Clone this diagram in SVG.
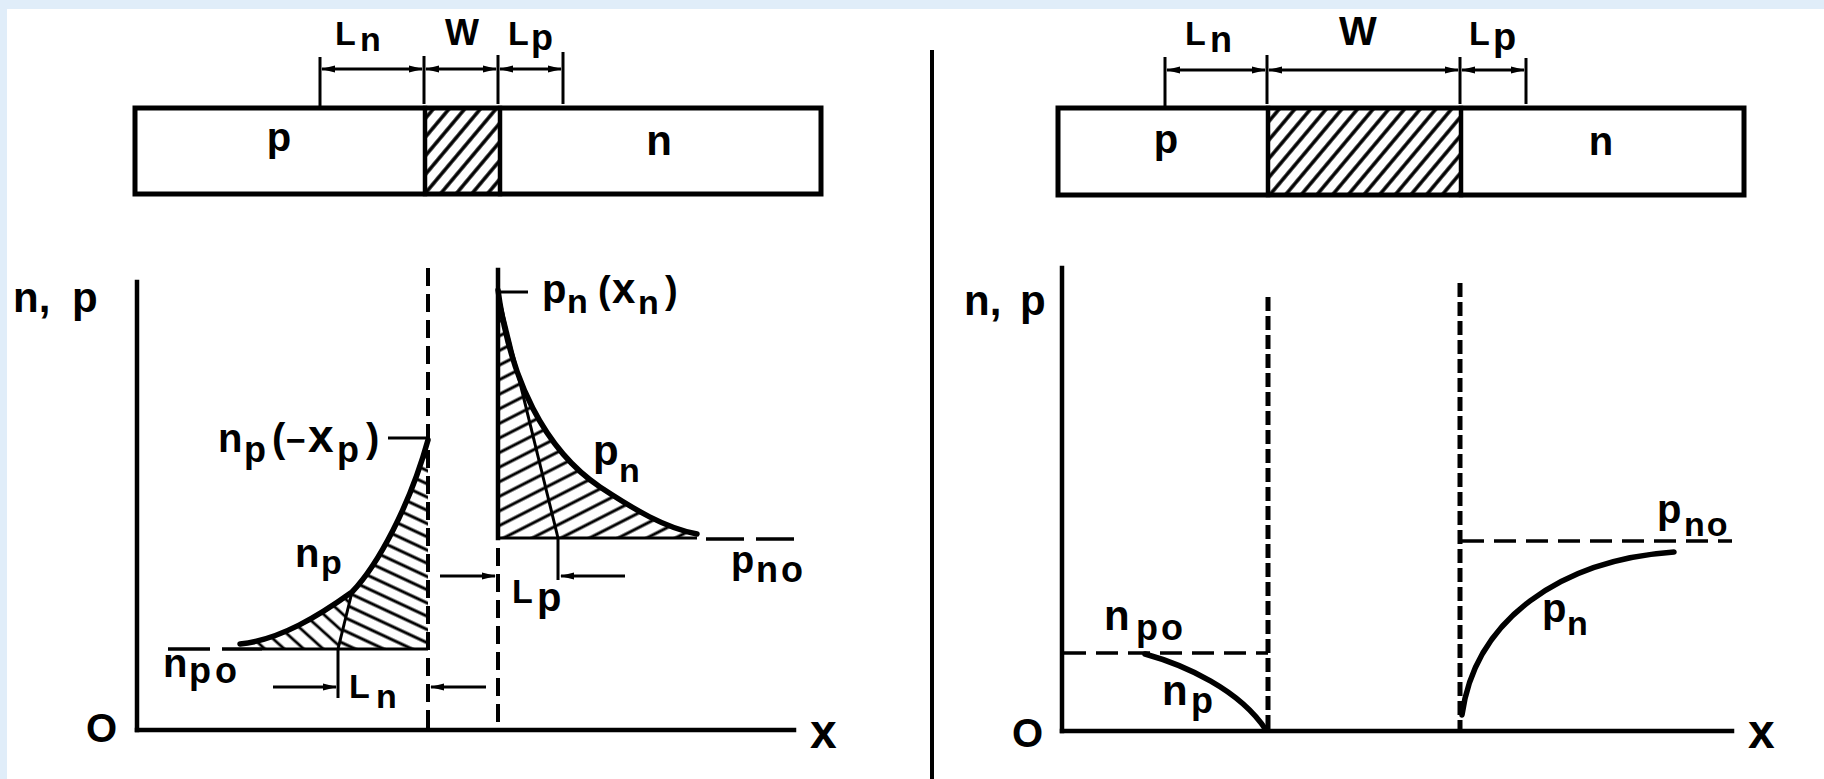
<svg xmlns="http://www.w3.org/2000/svg" width="1824" height="779" viewBox="0 0 1824 779">
<style>
.t{font-family:"Liberation Sans",Arial,sans-serif;font-weight:bold;fill:#000}
.ax{stroke:#000;stroke-width:4.5;fill:none;stroke-linecap:square}
.cv{stroke:#000;stroke-width:5.5;fill:none;stroke-linecap:round}
.th{stroke:#000;stroke-width:3;fill:none}
.dim{stroke:#000;stroke-width:3;fill:none;marker-start:url(#ah);marker-end:url(#ah)}
.arr{stroke:#000;stroke-width:3;fill:none;marker-end:url(#ah)}
.dl{stroke:#000;stroke-width:4;fill:none;stroke-dasharray:18 8}
.dd{stroke:#000;stroke-width:5;fill:none;stroke-dasharray:14 5}
.dh{stroke:#000;stroke-width:3.5;fill:none;stroke-dasharray:22 10}
</style>
<defs>
<marker id="ah" markerUnits="userSpaceOnUse" markerWidth="14" markerHeight="8" refX="13" refY="4" orient="auto-start-reverse"><path d="M0,0.5 L14,4 L0,7.5 Z" fill="#000"/></marker>
<pattern id="hBar" patternUnits="userSpaceOnUse" width="12" height="12" patternTransform="rotate(-50)"><line x1="0" y1="6" x2="12" y2="6" stroke="#000" stroke-width="3.5"/></pattern>
<pattern id="hN1" patternUnits="userSpaceOnUse" width="12" height="12" patternTransform="rotate(25)"><line x1="0" y1="6" x2="12" y2="6" stroke="#000" stroke-width="3"/></pattern>
<pattern id="hN2" patternUnits="userSpaceOnUse" width="13" height="13" patternTransform="rotate(42)"><line x1="0" y1="6" x2="13" y2="6" stroke="#000" stroke-width="2.8"/></pattern>
<pattern id="hP" patternUnits="userSpaceOnUse" width="13" height="13" patternTransform="rotate(-27)"><line x1="0" y1="6" x2="13" y2="6" stroke="#000" stroke-width="3"/></pattern>
</defs>
<rect x="0" y="0" width="1824" height="779" fill="#e0edf9"/>
<rect x="7" y="9" width="1817" height="770" fill="#fff"/>

<g id="divider"><line x1="932" y1="50" x2="932" y2="779" stroke="#000" stroke-width="4"/></g>

<g id="left-bar">
<rect x="425" y="108" width="75" height="86" fill="url(#hBar)"/>
<rect x="135" y="108" width="686" height="86" fill="none" stroke="#000" stroke-width="5"/>
<line x1="425" y1="108" x2="425" y2="194" class="ax"/>
<line x1="500" y1="108" x2="500" y2="194" class="ax"/>
<text class="t" x="279" y="151" font-size="40" text-anchor="middle">p</text>
<text class="t" x="659" y="155" font-size="42" text-anchor="middle">n</text>
</g>
<g id="left-bar-dims">
<line class="th" x1="320" y1="57" x2="320" y2="108"/>
<line class="th" x1="424" y1="56" x2="424" y2="104"/>
<line class="th" x1="498" y1="55" x2="498" y2="104"/>
<line class="th" x1="563" y1="52" x2="563" y2="104"/>
<line class="dim" x1="322" y1="69" x2="422" y2="69"/>
<line class="dim" x1="426" y1="69" x2="496" y2="69"/>
<line class="dim" x1="500" y1="69" x2="561" y2="69"/>
<text class="t" x="335" y="45" font-size="34">L<tspan x="360" y="51">n</tspan></text>
<text class="t" x="445" y="45" font-size="36">W</text>
<text class="t" x="508" y="45" font-size="34">L<tspan x="531" y="50" font-size="36">p</tspan></text>
</g>

<g id="right-bar">
<rect x="1268" y="108" width="193" height="87" fill="url(#hBar)"/>
<rect x="1058" y="108" width="686" height="87" fill="none" stroke="#000" stroke-width="5"/>
<line x1="1268" y1="108" x2="1268" y2="195" class="ax"/>
<line x1="1461" y1="108" x2="1461" y2="195" class="ax"/>
<text class="t" x="1166" y="153" font-size="40" text-anchor="middle">p</text>
<text class="t" x="1601" y="155" font-size="40" text-anchor="middle">n</text>
</g>
<g id="right-bar-dims">
<line class="th" x1="1165" y1="57" x2="1165" y2="108"/>
<line class="th" x1="1267" y1="55" x2="1267" y2="104"/>
<line class="th" x1="1460" y1="57" x2="1460" y2="104"/>
<line class="th" x1="1526" y1="58" x2="1526" y2="104"/>
<line class="dim" x1="1167" y1="70" x2="1265" y2="70"/>
<line class="dim" x1="1269" y1="70" x2="1458" y2="70"/>
<line class="dim" x1="1462" y1="70" x2="1524" y2="70"/>
<text class="t" x="1185" y="45" font-size="34">L<tspan x="1210" y="52" font-size="36">n</tspan></text>
<text class="t" x="1339" y="45" font-size="40">W</text>
<text class="t" x="1469" y="45" font-size="34">L<tspan x="1493" y="50" font-size="38">p</tspan></text>
</g>

<g id="left-plot">
<path d="M428,440 C410,505 378,565 352,592 L338,649 L428,649 Z" fill="url(#hN1)"/>
<path d="M352,592 C320,615 280,640 240,644 L262,649 L338,649 Z" fill="url(#hN2)"/>
<path d="M498,290 C510,380 545,450 600,487 C635,510 665,528 697,534 L697,538 L498,538 Z" fill="url(#hP)"/>
<line class="ax" x1="137" y1="282" x2="137" y2="730"/>
<line class="ax" x1="137" y1="730" x2="794" y2="730"/>
<line class="dl" x1="428" y1="268" x2="428" y2="730"/>
<line class="ax" x1="498" y1="270" x2="498" y2="538"/>
<line class="dl" x1="498" y1="548" x2="498" y2="730"/>
<path class="cv" d="M428,440 C410,505 378,565 352,592 C320,615 280,640 240,644"/>
<path class="cv" d="M498,290 C510,380 545,450 600,487 C635,510 665,528 697,534"/>
<line class="th" x1="352" y1="592" x2="338" y2="649"/>
<line class="th" x1="498" y1="293" x2="558" y2="538"/>
<line class="th" x1="262" y1="649" x2="428" y2="649" stroke-width="3.5"/>
<line class="dh" x1="168" y1="649" x2="262" y2="649" style="stroke-dasharray:42 12"/>
<line class="th" x1="498" y1="538" x2="697" y2="538" stroke-width="3.5"/>
<line class="dh" x1="706" y1="539" x2="795" y2="539" style="stroke-dasharray:38 12"/>
<line class="th" x1="388" y1="438" x2="428" y2="438"/>
<line class="th" x1="498" y1="292" x2="528" y2="292"/>
<line class="th" x1="338" y1="649" x2="338" y2="698"/>
<line class="arr" x1="273" y1="687" x2="336" y2="687"/>
<line class="arr" x1="486" y1="687" x2="431" y2="687"/>
<line class="th" x1="558" y1="538" x2="558" y2="580"/>
<line class="arr" x1="440" y1="576" x2="495" y2="576"/>
<line class="arr" x1="625" y1="576" x2="561" y2="576"/>
<text class="t" x="13" y="312" font-size="42">n, <tspan x="72">p</tspan></text>
<text class="t" x="86" y="742" font-size="40">O</text>
<text class="t" x="810" y="748" font-size="48">x</text>
<text class="t" x="542" y="303" font-size="40">p<tspan x="567" y="313" font-size="34">n</tspan><tspan x="598" y="303" font-size="38">(</tspan><tspan x="612" y="303" font-size="42">x</tspan><tspan x="638" y="314" font-size="34">n</tspan><tspan x="665" y="303" font-size="38">)</tspan></text>
<text class="t" x="218" y="452" font-size="40">n<tspan x="244" y="462" font-size="36">p</tspan><tspan x="272" y="452" font-size="40">(</tspan><tspan x="286" y="452" font-size="34">−</tspan><tspan x="308" y="452" font-size="46">x</tspan><tspan x="337" y="462" font-size="36">p</tspan><tspan x="366" y="452" font-size="40">)</tspan></text>
<text class="t" x="295" y="567" font-size="40">n<tspan x="321" y="574" font-size="34">p</tspan></text>
<text class="t" x="163" y="677" font-size="40">n<tspan x="189" y="683" font-size="36" letter-spacing="4">po</tspan></text>
<text class="t" x="349" y="698" font-size="34">L<tspan x="376" y="708">n</tspan></text>
<text class="t" x="512" y="603" font-size="34">L<tspan x="537" y="611" font-size="40">p</tspan></text>
<text class="t" x="593" y="465" font-size="42">p<tspan x="619" y="482" font-size="34">n</tspan></text>
<text class="t" x="731" y="573" font-size="38">p<tspan x="756" y="582" font-size="36" letter-spacing="3">no</tspan></text>
</g>

<g id="right-plot">
<line class="ax" x1="1062" y1="268" x2="1062" y2="731"/>
<line class="ax" x1="1062" y1="731" x2="1732" y2="731"/>
<line class="dd" x1="1268" y1="297" x2="1268" y2="731"/>
<line class="dd" x1="1460" y1="283" x2="1460" y2="731"/>
<line class="dh" x1="1064" y1="653" x2="1268" y2="653"/>
<line class="dh" x1="1462" y1="541" x2="1732" y2="541"/>
<path class="cv" d="M1145,654 C1185,665 1240,690 1266,730"/>
<path class="cv" d="M1462,715 C1475,620 1560,560 1674,552"/>
<text class="t" x="964" y="315" font-size="42">n, <tspan x="1020">p</tspan></text>
<text class="t" x="1012" y="747" font-size="40">O</text>
<text class="t" x="1748" y="748" font-size="48">x</text>
<text class="t" x="1104" y="630" font-size="42">n<tspan x="1136" y="640" font-size="36" letter-spacing="3">po</tspan></text>
<text class="t" x="1162" y="705" font-size="42">n<tspan x="1191" y="713" font-size="36">p</tspan></text>
<text class="t" x="1542" y="622" font-size="40">p<tspan x="1567" y="635" font-size="34">n</tspan></text>
<text class="t" x="1657" y="523" font-size="40">p<tspan x="1684" y="536" font-size="34" letter-spacing="2">no</tspan></text>
</g>
</svg>
